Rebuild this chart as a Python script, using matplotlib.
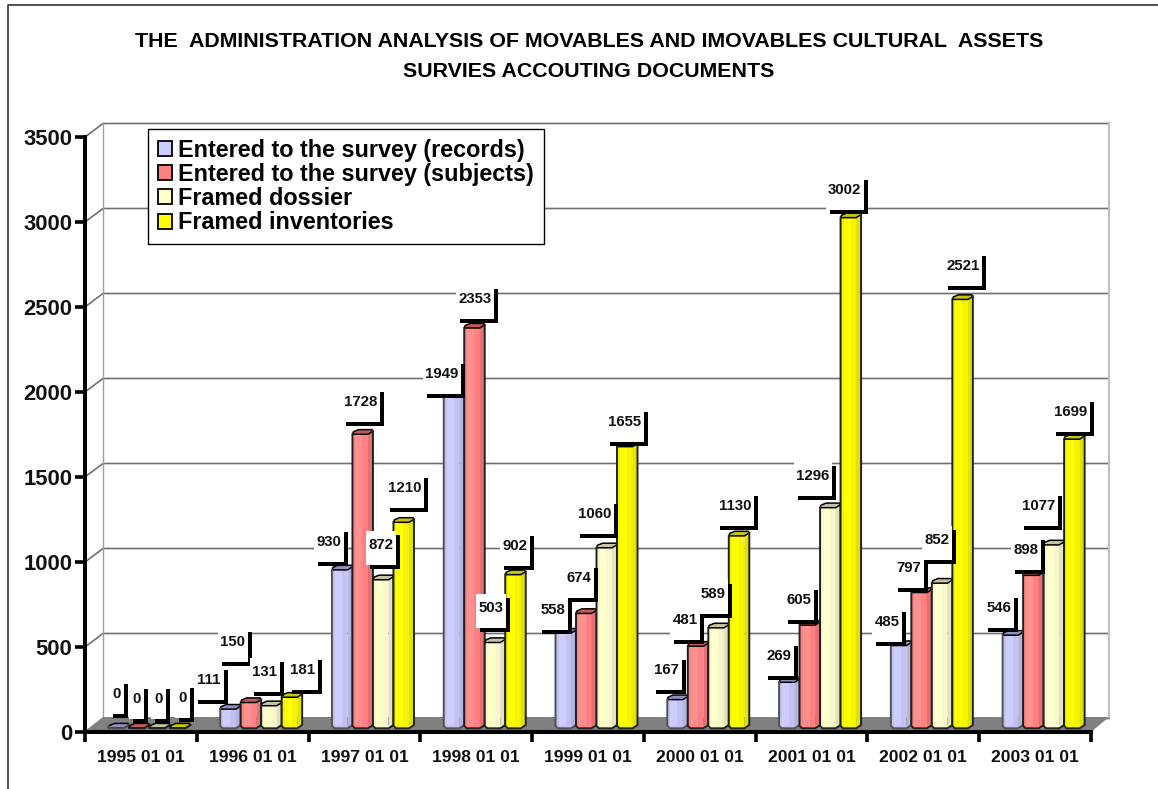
import matplotlib
matplotlib.use("Agg")
import matplotlib.pyplot as plt
from matplotlib.lines import Line2D
from matplotlib.patches import Patch, Rectangle

plt.rcParams['font.family'] = ['Liberation Sans', 'DejaVu Sans']
plt.rcParams['font.weight'] = 'bold'

# ---- data ----
years = ["1995 01 01", "1996 01 01", "1997 01 01", "1998 01 01", "1999 01 01",
         "2000 01 01", "2001 01 01", "2002 01 01", "2003 01 01"]
records = [0, 111, 930, 1949, 558, 167, 269, 485, 546]
subjects = [0, 150, 1728, 2353, 674, 481, 605, 797, 898]
dossier = [0, 131, 872, 503, 1060, 589, 1296, 852, 1077]
inventories = [0, 181, 1210, 902, 1655, 1130, 3002, 2521, 1699]
names = ["Entered to the survey (records)", "Entered to the survey (subjects)",
         "Framed dossier", "Framed inventories"]
yticks = [0, 500, 1000, 1500, 2000, 2500, 3000, 3500]
title = "THE  ADMINISTRATION ANALYSIS OF MOVABLES AND IMOVABLES CULTURAL  ASSETS\nSURVIES ACCOUTING DOCUMENTS"

# ---- styles ----
main_col = ["#C2C2F2", "#FF8080", "#F8F6CC", "#F4F400"]
light_col = ["#CCCCFF", "#FF9090", "#FFFFCC", "#FFFF00"]
side_col = ["#B4B4DC", "#E27272", "#E4E2B8", "#E2E200"]
cap_col = ["#9090C4", "#C45A5A", "#C4C4A0", "#C8C800"]
swatch_col = ["#CCCCFF", "#FF8080", "#FFFFCC", "#FFFF00"]

# label box position: box corner offset (px) from each bar's front-top-left
label_dx = [[19.6, 7.8, 16, 21.2, 16.4, 18.6, 18.8, 15, 15.2],
            [19.1, 11.3, 31.5, 33.7, 21.9, 16.1, 18.3, 16.5, 21.7],
            [20.6, 22.8, 27, 25.2, 21.4, 23.6, 15.8, 24, 18.2],
            [24.1, 40.3, 34.5, 28.7, 30.9, 29.1, 27.3, 33.5, 29.7]]
label_dy = [[-14, -9.1, -7.9, -2.7, -3.1, -9.6, -6.3, -3.6, -7.2],
            [-9, -40.5, -12.2, -9, -15.4, -6.2, -5.2, -4.5, -5.3],
            [-9, -13.7, -14.8, -14.5, -13.8, -13.9, -11.7, -23.2, -18.9],
            [-10, -7.2, -14.3, -8.7, -4.7, -9.9, -7.7, -13.4, -7.2]]

W, H = 1158, 789
AL, AR, AT, AB = 85, 1091, 137, 732
PXX = (AR - AL) / 9.0      # px per category
PXY = (AB - AT) / 3500.0   # px per value unit

fig = plt.figure(figsize=(W / 100, H / 100), dpi=100, facecolor="white")
ax = fig.add_axes([AL / W, 1 - AB / H, (AR - AL) / W, (AB - AT) / H])
ax.set_xlim(0, 9)
ax.set_ylim(0, 3500)
ax.patch.set_visible(False)


def dx(p):
    return p / PXX


def dy(p):           # p in px, positive = up
    return p / PXY


# ---- back wall and floor ----
DX, DYG, DYF = 18, 13.5, 15
for t in yticks:
    ax.plot([0, dx(DX), 9 + dx(DX)], [t, t + dy(DYG), t + dy(DYG)], color="#707070",
            lw=1.2, clip_on=False, zorder=1)
ax.plot([dx(DX)] * 2, [dy(DYF), 3500 + dy(DYG)], color="#A0A0A0", lw=1.0, clip_on=False, zorder=1)
ax.plot([9 + dx(DX)] * 2, [dy(DYF), 3500 + dy(DYG)], color="#C0C0C0", lw=1.6, clip_on=False, zorder=1)
ax.fill([0, dx(DX), 9 + dx(DX), 9], [0, dy(DYF), dy(DYF), 0], color="#808080", lw=0,
        clip_on=False, zorder=2)

# ---- bars ----
series = [records, subjects, dossier, inventories]
GAP, SLOT, FRONT, FULL = 23.4, 20.5, 15.5, 20.5
BASE = dy(4)
z = 3.0
for g in range(len(years)):
    for s, vals in enumerate(series):
        v = vals[g]
        left = g + dx(GAP + SLOT * s)
        top = BASE + v

        def P(px, base, py):
            return left + dx(px), base + dy(py)

        ax.bar(left, v, width=dx(FRONT), bottom=BASE, align="edge", color=main_col[s],
               lw=0, zorder=z)
        ax.bar(left + dx(3), v, width=dx(7), bottom=BASE, align="edge", color=light_col[s],
               lw=0, zorder=z)
        side = [P(FRONT, BASE, -0.5), P(FULL, BASE, 3), P(FULL, top, 3), P(FRONT, top, 0)]
        ax.fill(*zip(*side), color=side_col[s], lw=0, zorder=z, clip_on=False)
        foot = [P(0, BASE, 2), P(2.5, BASE, -0.3), P(FRONT, BASE, -0.3), P(FULL, BASE, 3)]
        ax.fill(*zip(*foot), color=main_col[s], lw=0, zorder=z, clip_on=False)
        cap = [P(0, top, 0), P(FRONT, top, 0), P(FULL, top, 3), P(FULL - 1, top, 4.6),
               P(6, top, 4.6), P(1, top, 2.5)]
        ax.fill(*zip(*cap), facecolor=cap_col[s], edgecolor="black", lw=1.1, zorder=z + 0.01,
                clip_on=False)
        outline = [P(0, top, 0), P(0, BASE, 2), P(2.5, BASE, -0.3), P(FRONT, BASE, -0.3),
                   P(FULL, BASE, 3), P(FULL, top, 3)]
        ax.plot(*zip(*outline), color="#202020" if s else "#505050", lw=1.4, zorder=z + 0.01,
                clip_on=False)
        z += 0.02

# ---- value labels: white box with black offset shadow ----
BOXH, SH = 34, 4
for g in range(len(years)):
    for s, vals in enumerate(series):
        v = vals[g]
        text = str(v)
        w = {1: 15, 3: 30, 4: 38}[len(text)]
        xr = g + dx(GAP + SLOT * s + label_dx[s][g])
        yb = v - dy(label_dy[s][g])
        ax.add_patch(Rectangle((xr - dx(w), yb), dx(w), dy(BOXH), facecolor="black", lw=0,
                               zorder=20, clip_on=False))
        ax.add_patch(Rectangle((xr - dx(w + SH), yb + dy(SH)), dx(w), dy(BOXH), facecolor="white",
                               lw=0, zorder=21, clip_on=False))
        ax.text(xr - dx(w / 2 + SH), yb + dy(SH + BOXH / 2 + 3), text, ha="center", va="center",
                fontsize=10.8, fontweight="bold", color="#111111", zorder=22, clip_on=False)

# ---- axes ----
for name in ("top", "right"):
    ax.spines[name].set_visible(False)
for name in ("left", "bottom"):
    ax.spines[name].set_linewidth(2.9)
    ax.spines[name].set_zorder(6)
ax.set_yticks(yticks)
ax.set_yticklabels([str(t) for t in yticks], fontsize=15.8, fontweight="bold", color="#111111")
ax.tick_params(axis="y", length=7, width=2.6, pad=2)
ax.set_xticks(range(10))
ax.set_xticklabels([])
ax.tick_params(axis="x", which="major", length=7, width=2.6)
ax.set_xticks([i + 0.5 for i in range(9)], minor=True)
ax.set_xticklabels(years, minor=True, fontsize=12.6, fontweight="bold", color="#111111")
ax.tick_params(axis="x", which="minor", length=0, pad=13)

ax.set_title(title, fontsize=15.4, fontweight="bold", linespacing=1.75, pad=43, color="black", x=0.501)

# ---- legend ----
handles = [Patch(facecolor=c, edgecolor="black", lw=1.3) for c in swatch_col]
leg = ax.legend(handles, names, loc="upper left",
                bbox_to_anchor=((148 - AL) / (AR - AL), 1 + (AT - 129) / (AB - AT)),
                borderaxespad=0, frameon=True, fancybox=False, framealpha=1,
                edgecolor="black", handlelength=0.6, handleheight=0.6, handletextpad=0.26,
                labelspacing=0.05, borderpad=0.42, prop={"weight": "bold", "size": 16.85})
leg.get_frame().set_linewidth(1.0)
leg.set_zorder(30)

# ---- outer border ----
fig.add_artist(Line2D([8 / W, 8 / W, 1], [0, 1 - 5 / H, 1 - 5 / H], color="#404040", lw=1.3))

fig.savefig("out.png", dpi=100)
